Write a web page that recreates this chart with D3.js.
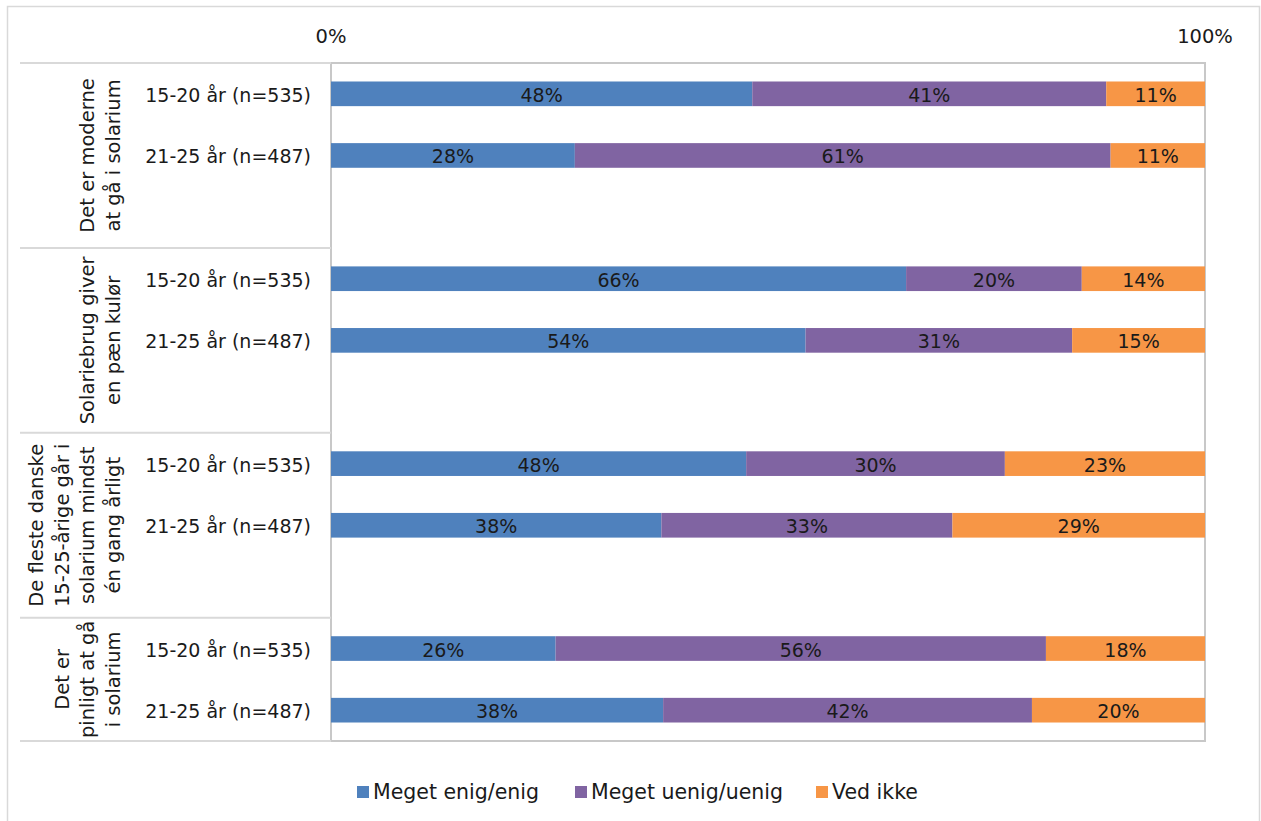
<!DOCTYPE html>
<html><head><meta charset="utf-8">
<script src="https://cdn.jsdelivr.net/npm/d3@7"></script>
<style>body{margin:0;background:#fff}svg{display:block}</style>
</head><body>
<script>
const categories = [
  ["Det er moderne","at gå i solarium"],
  ["Solariebrug giver","en pæn kulør"],
  ["De fleste danske","15-25-årige går i","solarium mindst","én gang årligt"],
  ["Det er","pinligt at gå","i solarium"]
];
const ageGroups = ["15-20 år (n=535)","21-25 år (n=487)"];
const seriesNames = ["Meget enig/enig","Meget uenig/uenig","Ved ikke"];
const seriesColors = ["#4F81BD","#8064A2","#F79646"];
const enig   = [48.2, 27.9, 65.8, 54.3, 47.5, 37.8, 25.7, 38.0];
const uenig  = [40.5, 61.3, 20.1, 30.5, 29.6, 33.3, 56.1, 42.2];
const vedIkke= [11.3, 10.8, 14.1, 15.2, 22.9, 28.9, 18.2, 19.8];
const tickLabels = ["0%","100%"];
const tickValues = [0,100];

const W=1261,H=821;
const svg=d3.select("body").append("svg").attr("width",W).attr("height",H);
const font="'DejaVu Sans', sans-serif";
const txt="#1a1a1a";

// outer frame
svg.append("rect").attr("x",7.5).attr("y",6.5).attr("width",1252).attr("height",830)
  .attr("fill","none").attr("stroke","#D9D9D9").attr("stroke-width",1.5);

const plot={l:331,r:1205,t:63,b:741};
const x=d3.scaleLinear().domain([0,100]).range([plot.l,plot.r]);

// slots
const slots=[];
categories.forEach((c,gi)=>{
  ageGroups.forEach((a,ai)=>slots.push(gi+"-"+ai));
  if(gi<categories.length-1) slots.push(gi+"-gap");
});
const y=d3.scaleBand().domain(slots).range([plot.t,plot.b]).paddingInner(0.6).paddingOuter(0.3);
const step=y.step();

// rows data
const rows=[];
categories.forEach((c,gi)=>ageGroups.forEach((a,ai)=>{
  const k=gi*2+ai;
  rows.push({key:gi+"-"+ai,age:a,vals:[enig[k],uenig[k],vedIkke[k]]});
}));

// plot border
svg.append("rect").attr("x",plot.l).attr("y",plot.t).attr("width",plot.r-plot.l).attr("height",plot.b-plot.t)
  .attr("fill","none").attr("stroke","#C8C8C8").attr("stroke-width",2);

// group separators in label area
const sepY=[plot.t];
categories.forEach((c,gi)=>{
  if(gi<categories.length-1){
    const k=gi+"-gap";
    sepY.push(y(k)+y.bandwidth()/2+step/2);
  }
});
sepY.push(plot.b);
svg.selectAll("line.sep").data(sepY).join("line").attr("class","sep")
  .attr("x1",20).attr("x2",plot.l).attr("y1",d=>d).attr("y2",d=>d)
  .attr("stroke","#D9D9D9").attr("stroke-width",2);

// ticks
svg.selectAll("text.tick").data(tickValues).join("text").attr("class","tick")
  .attr("x",d=>x(d)).attr("y",36).attr("text-anchor","middle").attr("dominant-baseline","central")
  .attr("font-family",font).attr("font-size",19.5).attr("fill",txt).text((d,i)=>tickLabels[i]);

// bars
const g=svg.selectAll("g.row").data(rows).join("g").attr("class","row");
g.each(function(r){
  const sel=d3.select(this);
  let cum=0;
  const segs=r.vals.map((v,i)=>{const s={x0:cum,x1:cum+v,v,i};cum+=v;return s;});
  sel.selectAll("rect").data(segs).join("rect")
    .attr("x",d=>x(d.x0)).attr("width",d=>x(d.x1)-x(d.x0))
    .attr("y",y(r.key)).attr("height",y.bandwidth())
    .attr("fill",d=>seriesColors[d.i]);
  sel.selectAll("text.val").data(segs).join("text").attr("class","val")
    .attr("x",d=>(x(d.x0)+x(d.x1))/2).attr("y",y(r.key)+y.bandwidth()/2+1)
    .attr("text-anchor","middle").attr("dominant-baseline","central")
    .attr("font-family",font).attr("font-size",19).attr("fill",txt)
    .text(d=>Math.round(d.v)+"%");
  sel.append("text").attr("x",311).attr("y",y(r.key)+y.bandwidth()/2+1)
    .attr("text-anchor","end").attr("dominant-baseline","central")
    .attr("font-family",font).attr("font-size",19).attr("fill",txt).text(r.age);
});

// category labels (rotated)
categories.forEach((lines,gi)=>{
  const cy=(sepY[gi]+sepY[gi+1])/2;
  const n=lines.length;
  lines.forEach((ln,li)=>{
    const cx=113-(n-1-li)*25.5;
    svg.append("text").attr("transform",`translate(${cx},${cy}) rotate(-90)`)
      .attr("text-anchor","middle").attr("dominant-baseline","central")
      .attr("font-family",font).attr("font-size",19.5).attr("fill",txt).text(ln);
  });
});

// legend
const legX=[357,575,816];
const leg=svg.selectAll("g.leg").data(seriesNames).join("g").attr("class","leg")
  .attr("transform",(d,i)=>`translate(${legX[i]},792)`);
leg.append("rect").attr("x",0).attr("y",-6).attr("width",12).attr("height",12).attr("fill",(d,i)=>seriesColors[i]);
leg.append("text").attr("x",16).attr("y",0).attr("dominant-baseline","central")
  .attr("font-family",font).attr("font-size",20.5).attr("fill",txt).text(d=>d);
</script>
</body></html>
